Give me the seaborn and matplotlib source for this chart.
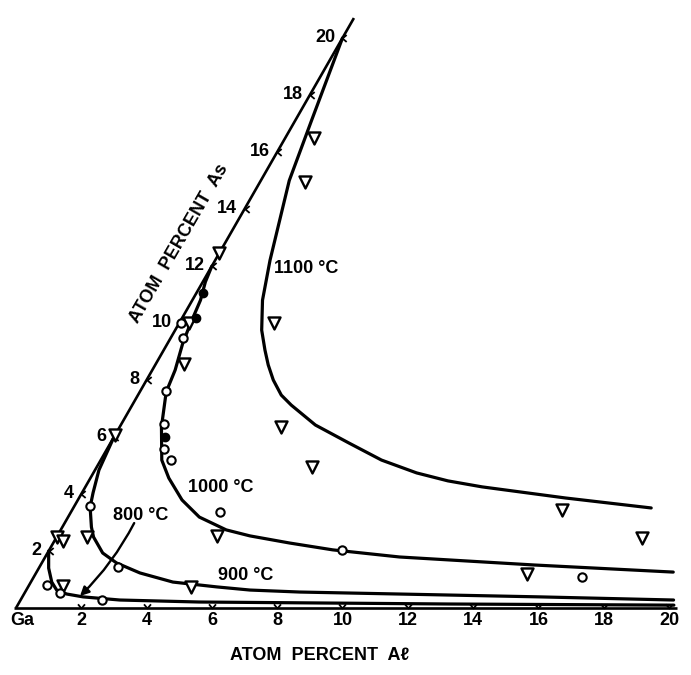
import numpy as np
import matplotlib
matplotlib.use("Agg")
import matplotlib.pyplot as plt
from matplotlib.path import Path
import seaborn as sns

# liquidus isotherms in the Ga corner, atom percent (Al, As)
C1100_AL = [0.0, 0.5, 0.87, 1.68, 2.15, 2.65, 3.1, 3.46, 3.88, 4.39, 4.87, 5.96, 7.3, 8.6, 9.9, 11.0, 12.15, 14.9, 17.7]
C1100_AS = [20.0, 17.1, 15.0, 12.2, 10.8, 9.75, 9.05, 8.53, 8.0, 7.47, 7.12, 6.42, 5.79, 5.19, 4.74, 4.46, 4.25, 3.86, 3.51]

C1000_AL = [0.0, 0.08, 0.25, 0.35, 0.46, 0.7, 0.81, 1.28, 1.87, 2.4, 3.19, 4.02, 5.07, 5.9, 7.24, 8.68, 10.85, 15.1, 19.5]
C1000_AS = [12.0, 11.44, 10.8, 10.0, 9.3, 8.35, 7.58, 6.35, 5.19, 4.56, 3.79, 3.19, 2.74, 2.53, 2.28, 2.04, 1.79, 1.51, 1.26]

C900_AL = [0.0, 0.12, 0.34, 0.5, 0.89, 1.13, 1.69, 2.29, 3.18, 4.35, 5.78, 6.85, 8.41, 11.5, 15.85, 20.0]
C900_AS = [6.0, 4.84, 4.04, 3.54, 2.84, 2.49, 1.93, 1.58, 1.23, 0.91, 0.74, 0.63, 0.56, 0.49, 0.39, 0.28]

C800_AL = [0.0, 0.3, 0.64, 0.93, 1.31, 1.86, 3.04, 5.5, 13.2, 20.1]
C800_AS = [2.0, 1.40, 0.91, 0.63, 0.49, 0.39, 0.28, 0.21, 0.14, 0.10]

# measured points
TRI_AL = [0.87, 1.37, 0.0, 2.9, 0.3, 0.87, 4.93, 6.6, 0.0, 0.94, 0.0, 0.25, 1.05, 5.0, 4.9, 15.0, 17.95, 15.05]
TRI_AS = [16.5, 14.95, 12.45, 10.0, 10.0, 8.56, 6.35, 4.95, 6.07, 2.49, 2.5, 2.35, 0.77, 0.74, 2.53, 3.44, 2.46, 1.19]

CIR_AL = [0.05, 0.37, 0.8, 1.29, 1.74, 2.15, 4.57, 8.98, 16.8, 0.48, 2.39, 0.54, 1.08, 2.49]
CIR_AS = [10.0, 9.47, 7.61, 6.46, 5.58, 5.19, 3.37, 2.04, 1.09, 3.58, 1.44, 0.81, 0.53, 0.28]

DOT_AL = [0.19, 0.41, 1.55]
DOT_AS = [11.05, 10.18, 6.0]

TICKS = [2, 4, 6, 8, 10, 12, 14, 16, 18, 20]
CURVE_LABELS = ["1100 °C", "1000 °C", "900 °C", "800 °C"]


def tern(al, as_):
    """Al / As atom percent -> cartesian position in the triangle."""
    al = np.asarray(al, float)
    as_ = np.asarray(as_, float)
    return al + 0.5 * as_, as_ * np.sqrt(3) / 2


sns.set_theme(style="white")
plt.rcParams["font.family"] = ["Liberation Sans", "DejaVu Sans"]
plt.rcParams["font.weight"] = "bold"
plt.rcParams["text.color"] = "black"

fig = plt.figure(figsize=(6.91, 6.75), dpi=100)
ax = fig.add_axes([0, 0, 1, 1])
ax.set_xlim(-0.49, 20.674)
ax.set_ylim(-2.036, 18.475)
ax.axis("off")

# frame: Ga-Al edge and Ga-As edge
x, y = tern([-0.05, 20.25], [0, 0])
ax.plot(x, y, color="black", lw=1.9, solid_capstyle="butt")
x, y = tern([0, 0], [0, 20.7])
ax.plot(x, y, color="black", lw=1.9, solid_capstyle="butt")

# little chevron ticks
v_tick = Path([(-1, 1.2), (0, 0), (1, 1.2)], [Path.MOVETO, Path.LINETO, Path.LINETO])
lt_tick = Path([(1.2, 1), (0, 0), (1.2, -1)], [Path.MOVETO, Path.LINETO, Path.LINETO])
x, y = tern(TICKS, np.zeros(len(TICKS)))
ax.plot(x, y, ls="none", marker=v_tick, ms=6, mfc="none", mec="black", mew=1.3)
x, y = tern(np.zeros(len(TICKS)), TICKS)
ax.plot(x, y, ls="none", marker=lt_tick, ms=6, mfc="none", mec="black", mew=1.3)

fs = 13
for t in TICKS:
    x, y = tern(t, 0)
    ax.text(x, -0.365, str(t), ha="center", va="center", fontsize=fs, color="black")
    x, y = tern(0, t)
    ax.text(x - 0.22, y, str(t), ha="right", va="center", fontsize=fs, color="black")
ax.text(0.2, -0.365, "Ga", ha="center", va="center", fontsize=fs, color="black")

ax.text(9.31, -1.43, "ATOM  PERCENT  A\u2113", ha="center", va="center",
        fontsize=fs, color="black")
ax.text(4.99, 11.06, "ATOM  PERCENT  As", ha="center", va="center", fontsize=fs,
        color="black", rotation=60, rotation_mode="anchor")

# isotherms
for al, as_ in [(C1100_AL, C1100_AS), (C1000_AL, C1000_AS),
                (C900_AL, C900_AS), (C800_AL, C800_AS)]:
    x, y = tern(al, as_)
    sns.lineplot(x=x, y=y, sort=False, estimator=None, color="black", lw=2.3, ax=ax)

label_pos = [(7.9, 10.33), (5.27, 3.65), (6.19, 1.00), (2.97, 2.80)]
for txt, (lx, ly) in zip(CURVE_LABELS, label_pos):
    ax.text(lx, ly, txt, ha="left", va="center", fontsize=fs, color="black")

# arrow from the 800 label onto its curve
ax.annotate("", xy=tern(1.75, 0.42), xytext=tern(2.13, 2.98),
            arrowprops=dict(arrowstyle="-|>", color="black", lw=1.7, mutation_scale=13,
                            shrinkA=0, shrinkB=0, connectionstyle="arc3,rad=-0.08"))

# data points
x, y = tern(TRI_AL, TRI_AS)
sns.scatterplot(x=x, y=y, marker="v", s=75, color="white", edgecolor="black",
                linewidth=1.7, ax=ax, zorder=4)
x, y = tern(CIR_AL, CIR_AS)
sns.scatterplot(x=x, y=y, marker="o", s=36, color="white", edgecolor="black",
                linewidth=1.5, ax=ax, zorder=4)
x, y = tern(DOT_AL, DOT_AS)
sns.scatterplot(x=x, y=y, marker="o", s=36, color="black", edgecolor="black",
                linewidth=1.0, ax=ax, zorder=4)

fig.savefig("out.png", dpi=100, facecolor="white")
